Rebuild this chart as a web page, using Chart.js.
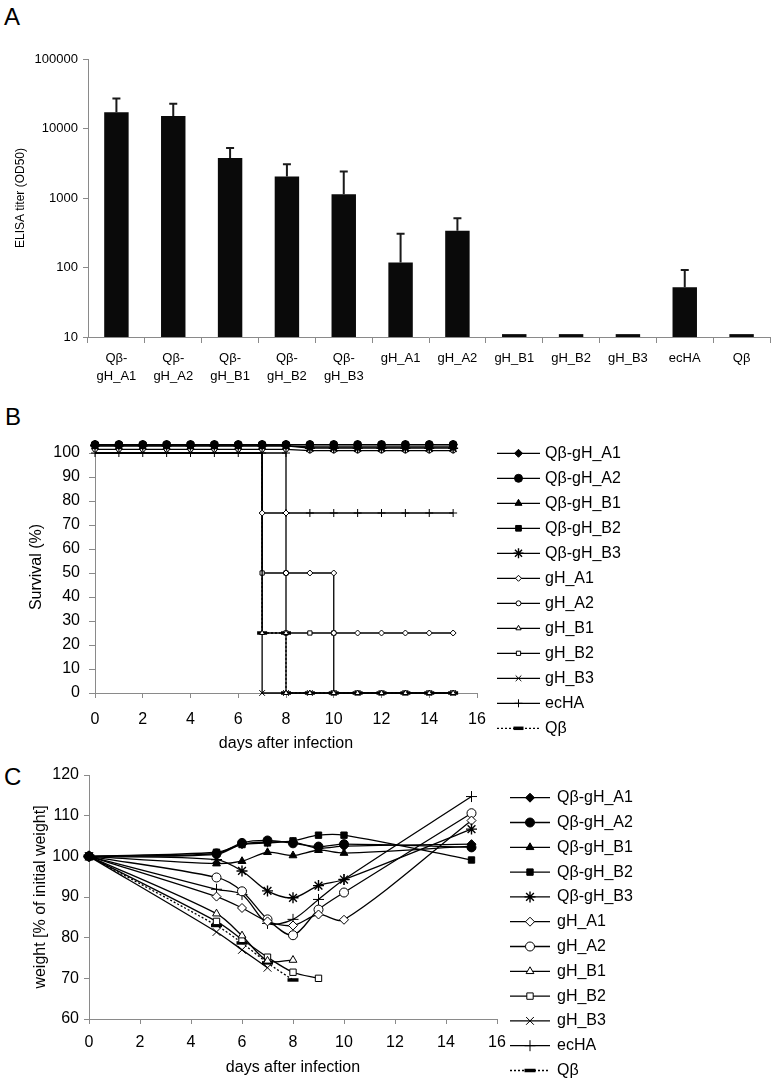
<!DOCTYPE html>
<html>
<head>
<meta charset="utf-8">
<script src="https://cdn.jsdelivr.net/npm/chart.js@4.4.1/dist/chart.umd.min.js"></script>
<style>
  body { margin: 0; background: #fff; }
  #wrap { position: relative; width: 775px; height: 1086px; overflow: hidden; font-family: 'Liberation Sans', Arial, sans-serif; }
  canvas { position: absolute; left: 0; }
  .panel { position: absolute; font-size: 24px; line-height: 24px; color: #000; }
</style>
</head>
<body>
<div id="wrap">
  <div class="panel" style="left:4px; top:5px">A</div>
  <div class="panel" style="left:5px; top:405px">B</div>
  <div class="panel" style="left:4px; top:765px">C</div>
  <canvas id="elisa" width="775" height="390" style="top:0"></canvas>
  <canvas id="survival" width="775" height="360" style="top:400px"></canvas>
  <canvas id="weight" width="775" height="336" style="top:750px"></canvas>
</div>
<script>
// ---- panel A: ELISA titers ----
const elisaGroups = [['Qβ-', 'gH_A1'], ['Qβ-', 'gH_A2'], ['Qβ-', 'gH_B1'], ['Qβ-', 'gH_B2'], ['Qβ-', 'gH_B3'],
  'gH_A1', 'gH_A2', 'gH_B1', 'gH_B2', 'gH_B3', 'ecHA', 'Qβ'];
const elisaTiter = [17100, 15100, 3770, 2040, 1130, 118, 338, 11, 11, 11, 52, 11];
const elisaUpper = [27100, 22700, 5240, 3060, 2400, 306, 512, null, null, null, 92, null];
const elisaTicks = [10, 100, 1000, 10000, 100000];

// ---- shared ----
const groupNames = ['Qβ-gH_A1', 'Qβ-gH_A2', 'Qβ-gH_B1', 'Qβ-gH_B2', 'Qβ-gH_B3',
  'gH_A1', 'gH_A2', 'gH_B1', 'gH_B2', 'gH_B3', 'ecHA', 'Qβ'];
const dayTicks = [0, 2, 4, 6, 8, 10, 12, 14, 16];

// ---- panel B: survival, [day, %] ----
const survivalTicks = [0, 10, 20, 30, 40, 50, 60, 70, 80, 90, 100];
const survQbA1 = [[0,103.5],[1,103.5],[2,103.5],[3,103.5],[4,103.5],[5,103.5],[6,103.5],[7,103.5],[8,103.5],[9,103.5],[10,103.5],[11,103.5],[12,103.5],[13,103.5],[14,103.5],[15,103.5]];
const survQbA2 = [[0,103.5],[1,103.5],[2,103.5],[3,103.5],[4,103.5],[5,103.5],[6,103.5],[7,103.5],[8,103.5],[9,103.5],[10,103.5],[11,103.5],[12,103.5],[13,103.5],[14,103.5],[15,103.5]];
const survQbB1 = [[0,103.5],[1,103.5],[2,103.5],[3,103.5],[4,103.5],[5,103.5],[6,103.5],[7,103.5],[8,103.5],[9,103.5],[10,103.5],[11,103.5],[12,103.5],[13,103.5],[14,103.5],[15,103.5]];
const survQbB2 = [[0,103],[1,103],[2,103],[3,103],[4,103],[5,103],[6,103],[7,103],[8,103],[9,102.5],[10,102.5],[11,102.5],[12,102.5],[13,102.5],[14,102.5],[15,102.5]];
const survQbB3 = [[0,103],[1,103],[2,103],[3,103],[4,103],[5,103],[6,103],[7,103],[8,103],[9,102],[10,102],[11,102],[12,102],[13,102],[14,102],[15,102]];
const survGhA1 = [[0,100],[1,100],[2,100],[3,100],[4,100],[5,100],[6,100],[7,100],[7,75],[8,75],[8,50],[9,50],[10,50],[10,25],[11,25],[12,25],[13,25],[14,25],[15,25]];
const survGhA2 = [[0,101.5],[1,101.5],[2,101.5],[3,101.5],[4,101.5],[5,101.5],[6,101.5],[7,101.5],[8,101.5],[9,101],[10,101],[11,101],[12,101],[13,101],[14,101],[15,101]];
const survGhB1 = [[0,100],[1,100],[2,100],[3,100],[4,100],[5,100],[6,100],[7,100],[7,25],[8,25],[8,0],[9,0],[10,0],[11,0],[12,0],[13,0],[14,0],[15,0]];
const survGhB2 = [[0,100],[1,100],[2,100],[3,100],[4,100],[5,100],[6,100],[7,100],[7,50],[8,50],[8,25],[9,25],[10,25],[10,0],[11,0],[12,0],[13,0],[14,0],[15,0]];
const survGhB3 = [[0,100],[1,100],[2,100],[3,100],[4,100],[5,100],[6,100],[7,100],[7,0],[8,0],[9,0],[10,0],[11,0],[12,0],[13,0],[14,0],[15,0]];
const survEcHA = [[0,100],[1,100],[2,100],[3,100],[4,100],[5,100],[6,100],[7,100],[8,100],[8,75],[9,75],[10,75],[11,75],[12,75],[13,75],[14,75],[15,75]];
const survQb   = [[0,100],[1,100],[2,100],[3,100],[4,100],[5,100],[6,100],[7,100],[7,25],[8,25],[8,0],[9,0],[10,0],[11,0],[12,0],[13,0],[14,0],[15,0]];

// ---- panel C: body weight (% of initial) ----
const weightTicks = [60, 70, 80, 90, 100, 110, 120];
const weightDays   = [0, 5, 6, 7, 8, 9, 10, 15];
const weightDaysD9 = [0, 5, 6, 7, 8, 9];
const weightDaysD8 = [0, 5, 6, 7, 8];
const weightDaysD7 = [0, 5, 6, 7];
const weightQbA1 = [100, 100.5, 103.0, 103.5, 103.5, 102.0, 102.5, 103.0];
const weightQbA2 = [100, 100.7, 103.3, 103.9, 103.2, 102.4, 103.0, 102.2];
const weightQbB1 = [100, 98.2, 98.8, 101.0, 100.2, 101.5, 100.8, 102.5];
const weightQbB2 = [100, 101.0, 102.9, 103.3, 103.8, 105.2, 105.2, 99.1];
const weightQbB3 = [100, 99.2, 96.4, 91.5, 89.8, 92.8, 94.3, 106.7];
const weightGhA1 = [100, 90.1, 87.3, 84.0, 83.0, 85.7, 84.4, 108.8];
const weightGhA2 = [100, 94.8, 91.4, 84.5, 80.6, 86.9, 91.1, 110.6];
const weightGhB1 = [100, 85.9, 80.5, 74.3, 74.5];
const weightGhB2 = [100, 84.0, 79.6, 75.2, 71.5, 70.0];
const weightGhB3 = [100, 81.4, 77.0, 72.6];
const weightEcHA = [100, 91.9, 90.6, 83.5, 84.5, 89.4, 94.3, 114.7];
const weightQb   = [100, 83.0, 78.7, 73.8, 69.6];

const axisGrey = '#8a8a8a';
Chart.defaults.font.family = "'Liberation Sans', Arial, sans-serif";
Chart.defaults.color = '#000';

// marker per group: style, filled or open
const markerStyle = ['rectRot', 'circle', 'triangle', 'rect', 'star',
  'rectRot', 'circle', 'triangle', 'rect', 'crossRot', 'cross', 'line'];
const markerFill = ['#000', '#000', '#000', '#000', '#000',
  '#fff', '#fff', '#fff', '#fff', '#fff', '#fff', '#000'];

const errorBars = {
  id: 'errorBars',
  afterDatasetsDraw(chart) {
    const { ctx } = chart;
    const y = chart.scales.y;
    const meta = chart.getDatasetMeta(0);
    ctx.save();
    ctx.strokeStyle = '#1a1a1a';
    ctx.lineWidth = 2;
    meta.data.forEach((bar, i) => {
      const hi = elisaUpper[i];
      if (hi == null) return;
      const top = y.getPixelForValue(hi);
      ctx.beginPath();
      ctx.moveTo(bar.x, bar.y);
      ctx.lineTo(bar.x, top);
      ctx.moveTo(bar.x - 4, top);
      ctx.lineTo(bar.x + 4, top);
      ctx.stroke();
    });
    ctx.restore();
  }
};

// legend drawn as line + marker + text, like the original
const lineLegend = {
  id: 'lineLegend',
  afterDraw(chart, args, opts) {
    const ctx = chart.ctx;
    ctx.save();
    chart.data.datasets.forEach((ds, i) => {
      const y = opts.top + i * opts.step;
      ctx.strokeStyle = '#000';
      ctx.lineWidth = 1.3;
      ctx.setLineDash(ds.borderDash || []);
      ctx.beginPath();
      ctx.moveTo(opts.x0, y);
      ctx.lineTo(opts.x1, y);
      ctx.stroke();
      ctx.setLineDash([]);
      ctx.fillStyle = ds.pointBackgroundColor;
      ctx.lineWidth = ds.pointBorderWidth;
      Chart.helpers.drawPoint(ctx, {
        pointStyle: ds.pointStyle, radius: ds.legendRadius,
        borderWidth: ds.pointBorderWidth, rotation: 0
      }, (opts.x0 + opts.x1) / 2, y);
      ctx.fillStyle = '#000';
      ctx.font = '16px ' + Chart.defaults.font.family;
      ctx.textBaseline = 'middle';
      ctx.fillText(ds.label, opts.textX, y);
    });
    ctx.restore();
  }
};

function makeSeries(i, points, radius, tension) {
  const open = markerFill[i] === '#fff';
  let r = radius;
  let bw = 1;
  if (markerStyle[i] === 'line') { r = radius + 1; bw = 3.5; }
  if (markerStyle[i] === 'star' || markerStyle[i] === 'crossRot' || markerStyle[i] === 'cross') { r = radius + 1; bw = 1.4; }
  return {
    label: groupNames[i],
    data: points,
    borderColor: '#000',
    borderWidth: 1.3,
    borderDash: markerStyle[i] === 'line' ? [2, 2] : [],
    pointStyle: markerStyle[i],
    pointRadius: r,
    legendRadius: r,
    pointBackgroundColor: markerFill[i],
    pointBorderColor: '#000',
    pointBorderWidth: open ? 1 : bw,
    tension: tension,
    clip: false
  };
}

function fixedTicks(list) {
  return s => { s.ticks = list.map(v => ({ value: v })); };
}

function xyPairs(pairs) { return pairs.map(p => ({ x: p[0], y: p[1] })); }
function xyLists(days, vals) { return days.map((d, i) => ({ x: d, y: vals[i] })); }

// ---- A ----
new Chart(document.getElementById('elisa'), {
  type: 'bar',
  data: {
    labels: elisaGroups,
    datasets: [{ data: elisaTiter, backgroundColor: '#0a0a0a', barPercentage: 0.43, categoryPercentage: 1 }]
  },
  options: {
    responsive: false, animation: false, devicePixelRatio: 1,
    layout: { padding: { top: 59, right: 5, left: 0, bottom: 0 } },
    plugins: { legend: { display: false }, tooltip: { enabled: false } },
    scales: {
      x: {
        grid: { offset: true, drawOnChartArea: false, tickLength: 6, color: axisGrey },
        border: { color: axisGrey },
        ticks: { font: { size: 13, lineHeight: 1.4 }, padding: 6, maxRotation: 0, autoSkip: false },
        afterFit: s => { s.height = 53; }
      },
      y: {
        type: 'logarithmic', min: 10, max: 100000,
        grid: { drawOnChartArea: false, tickLength: 5, color: axisGrey },
        border: { color: axisGrey },
        ticks: { font: { size: 13 }, padding: 5, callback: v => String(v) },
        afterBuildTicks: fixedTicks(elisaTicks),
        title: { display: true, text: 'ELISA titer (OD50)', font: { size: 12 }, padding: { top: 13, bottom: 0 } },
        afterFit: s => { s.width = 88; }
      }
    }
  },
  plugins: [errorBars]
});

// ---- B ----
const survSets = [survQbA1, survQbA2, survQbB1, survQbB2, survQbB3, survGhA1, survGhA2,
  survGhB1, survGhB2, survGhB3, survEcHA, survQb];
const survDatasets = survSets.map((s, i) => {
  const isOpen = markerFill[i] === '#fff';
  const ds = makeSeries(i, xyPairs(s), isOpen ? 3 : 4, 0);
  if (i === 6) { ds.pointRadius = 2.5; ds.legendRadius = 2.5; }
  // along the shared 100 % line only the ecHA crosses show in the original
  if (i === 5 || (i >= 7 && i <= 9) || i === 11) {
    const r = ds.pointRadius;
    ds.pointRadius = c => (c.raw && c.raw.y === 100 ? 0 : r);
  }
  return ds;
});

new Chart(document.getElementById('survival'), {
  type: 'line',
  data: { datasets: survDatasets },
  options: {
    responsive: false, animation: false, devicePixelRatio: 1,
    layout: { padding: { top: 41, right: 298, left: 0, bottom: 0 } },
    plugins: {
      legend: { display: false }, tooltip: { enabled: false },
      lineLegend: { top: 53.3, step: 25, x0: 497, x1: 540, textX: 545 }
    },
    scales: {
      x: {
        type: 'linear', min: 0, max: 16,
        afterBuildTicks: fixedTicks(dayTicks),
        grid: { drawOnChartArea: false, tickLength: 5, color: axisGrey },
        border: { color: axisGrey },
        ticks: { font: { size: 16 }, padding: 12 },
        title: { display: true, text: 'days after infection', font: { size: 16 }, padding: { top: 0, bottom: 7 } },
        afterFit: s => { s.height = 67; }
      },
      y: {
        min: 0, max: 105,
        afterBuildTicks: fixedTicks(survivalTicks),
        grid: { drawOnChartArea: false, tickLength: 6, color: axisGrey },
        border: { color: axisGrey },
        ticks: { font: { size: 16 }, padding: 9 },
        title: { display: true, text: 'Survival (%)', font: { size: 16 }, padding: { top: 27, bottom: 0 } },
        afterFit: s => { s.width = 95; }
      }
    }
  },
  plugins: [lineLegend]
});

// ---- C ----
const weightSets = [
  [weightDays, weightQbA1], [weightDays, weightQbA2], [weightDays, weightQbB1], [weightDays, weightQbB2],
  [weightDays, weightQbB3], [weightDays, weightGhA1], [weightDays, weightGhA2], [weightDaysD8, weightGhB1],
  [weightDaysD9, weightGhB2], [weightDaysD7, weightGhB3], [weightDays, weightEcHA], [weightDaysD8, weightQb]
];
const weightDatasets = weightSets.map((s, i) => makeSeries(i, xyLists(s[0], s[1]), 4.5, 0.3));

new Chart(document.getElementById('weight'), {
  type: 'line',
  data: { datasets: weightDatasets },
  options: {
    responsive: false, animation: false, devicePixelRatio: 1,
    layout: { padding: { top: 25, right: 278, left: 0, bottom: 0 } },
    plugins: {
      legend: { display: false }, tooltip: { enabled: false },
      lineLegend: { top: 47.7, step: 24.8, x0: 510, x1: 550, textX: 557 }
    },
    scales: {
      x: {
        type: 'linear', min: 0, max: 16,
        afterBuildTicks: fixedTicks(dayTicks),
        grid: { drawOnChartArea: false, tickLength: 5, color: axisGrey },
        border: { color: axisGrey },
        ticks: { font: { size: 16 }, padding: 9 },
        title: { display: true, text: 'days after infection', font: { size: 16 }, padding: { top: 0, bottom: 9 } },
        afterFit: s => { s.height = 67; }
      },
      y: {
        min: 60, max: 120,
        afterBuildTicks: fixedTicks(weightTicks),
        grid: { drawOnChartArea: false, tickLength: 5, color: axisGrey },
        border: { color: axisGrey },
        ticks: { font: { size: 16 }, padding: 5 },
        title: { display: true, text: 'weight [% of initial weight]', font: { size: 16 }, padding: { top: 31, bottom: 0 } },
        afterFit: s => { s.width = 89; }
      }
    }
  },
  plugins: [lineLegend]
});
</script>
</body>
</html>
